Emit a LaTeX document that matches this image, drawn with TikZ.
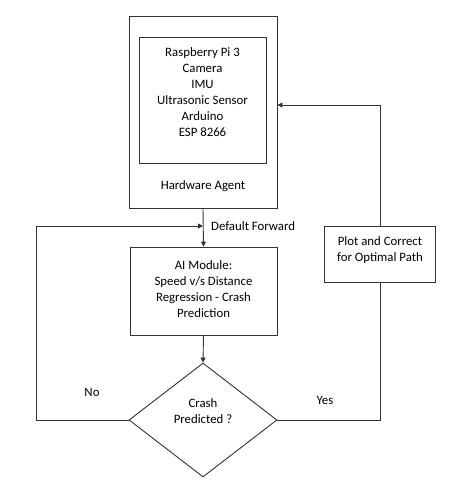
\documentclass[tikz,border=0pt]{standalone}
\usepackage{fontspec}
\setmainfont{Carlito}
\usetikzlibrary{shapes.geometric,arrows.meta}
\begin{document}
\begin{tikzpicture}[x=1pt,y=-1pt,
  box/.style={draw=black!80,line width=0.9pt,rectangle,inner sep=0pt},
  txt/.style={align=center,font=\fontsize{12.8}{16}\selectfont,text=black,inner sep=0pt},
  conn/.style={draw=black!80,line width=0.9pt},
  arr/.style={conn,-{Triangle[length=5pt,width=5pt]}}]
\useasboundingbox (0,0) rectangle (455,491);
\fill[white] (0,0) rectangle (455,491);
% hardware agent
\node[box,minimum width=148pt,minimum height=192pt] (outer) at (203,112) {};
\node[box,minimum width=127pt,minimum height=126pt] (inner) at (202.5,100) {};
\node[txt] (hwlist) at (202.5,92.5) {Raspberry Pi 3\\Camera\\IMU\\Ultrasonic Sensor\\Arduino\\ESP 8266};
\node[txt] (hwlabel) at (203,186) {Hardware Agent};
% AI module
\node[box,minimum width=147pt,minimum height=88pt] (ai) at (203.5,291) {};
\node[txt] (aitext) at (203.5,289.5) {AI Module:\\Speed v/s Distance\\Regression - Crash\\Prediction};
% plot box
\node[box,minimum width=111pt,minimum height=56pt] (plot) at (380,254) {};
\node[txt] (plottext) at (380,250) {Plot and Correct\\for Optimal Path};
% decision
\node[draw=black!80,line width=0.9pt,diamond,minimum width=148pt,minimum height=114pt,inner sep=0pt] (dec) at (203,420) {};
\node[txt] (dectext) at (203,411.5) {Crash\\Predicted ?};
% labels
\node[txt,anchor=west] (df) at (211,226) {Default Forward};
\node[txt] (no) at (92,392) {No};
\node[txt] (yes) at (325,400) {Yes};
% coordinates
\coordinate (join) at (203,226);
\coordinate (lb) at (36,420);
\coordinate (lt) at (36,226);
\coordinate (rb) at (380,420);
\coordinate (rt) at (380,105);
\coordinate (hin) at (outer.east |- rt);
% connectors
\draw[arr] (outer.south) -- (ai.north);
\draw[arr] (dec.west) -- (lb) -- (lt) -- (join);
\draw[arr] (ai.south) -- (dec.north);
\draw[conn] (dec.east) -- (rb) -- (plot.south);
\draw[arr] (plot.north) -- (rt) -- (hin);
\end{tikzpicture}
\end{document}
